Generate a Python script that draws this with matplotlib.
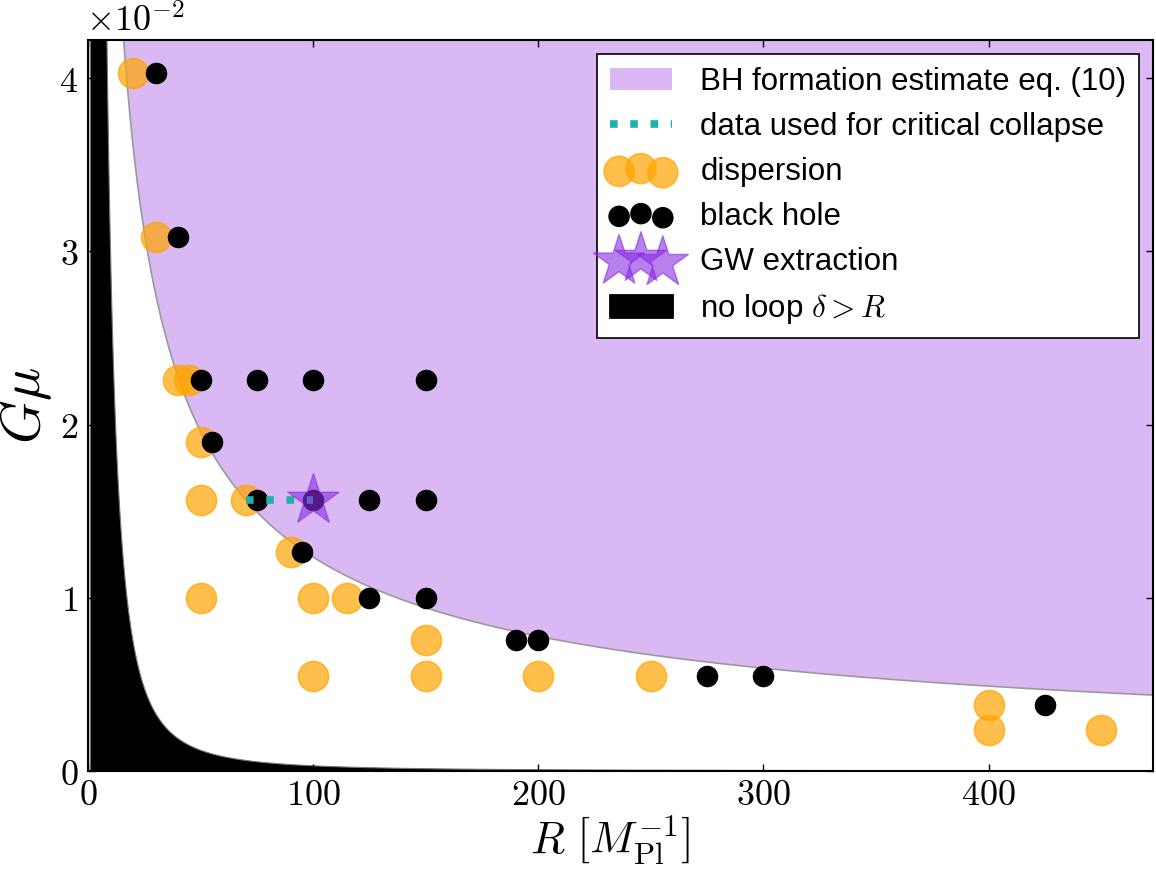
import numpy as np
import matplotlib
matplotlib.use('Agg')
import matplotlib.pyplot as plt
from matplotlib.ticker import FuncFormatter, MultipleLocator
from matplotlib.patches import Patch
from matplotlib.lines import Line2D

plt.rcParams['mathtext.fontset'] = 'cm'
plt.rcParams['font.family'] = ['Liberation Sans', 'DejaVu Sans']

# ---- data (G mu in units of 1e-2) ----
disp_R = [20, 30, 40, 45, 50, 50, 70, 90, 50, 100, 115, 150, 100, 150, 200, 250, 400, 400, 450]
disp_Gmu = [4.03, 3.08, 2.26, 2.26, 1.90, 1.565, 1.565, 1.265, 1.00, 1.00, 1.00, 0.757,
            0.55, 0.55, 0.55, 0.55, 0.38, 0.236, 0.236]

bh_R = [30, 40, 50, 75, 100, 150, 55, 75, 100, 125, 150, 95, 125, 150, 190, 200, 275, 300, 425]
bh_Gmu = [4.03, 3.08, 2.26, 2.26, 2.26, 2.26, 1.90, 1.565, 1.565, 1.565, 1.565, 1.265,
          1.00, 1.00, 0.757, 0.757, 0.55, 0.55, 0.38]

gw_R = [100]
gw_Gmu = [1.565]

crit_R = [70, 100]
crit_Gmu = [1.565, 1.565]

# BH formation estimate: Gmu = BH_COEFF * R**BH_EXP   (units 1e-2)
BH_COEFF = 26.6
BH_EXP = -2.0 / 3.0
# no loop region: Gmu < NOLOOP_COEFF / R**2   (units 1e-2)
NOLOOP_COEFF = 300.0

SCALE = 1e-2

LAVENDER = '#d9b8f4'
ORANGE = '#ffa500'
TEAL = '#20b2aa'
VIOLET = '#8a2be2'

fig = plt.figure(figsize=(11.56, 8.71), dpi=100)
ax = fig.add_axes([88 / 1156, 1 - 771 / 871, (1153 - 88) / 1156, (771 - 40) / 871])

Rc = np.linspace(1.0, 480.0, 3000)
bh_curve = BH_COEFF * Rc ** BH_EXP * SCALE
nl_curve = NOLOOP_COEFF / Rc ** 2 * SCALE

ax.fill_between(Rc, bh_curve, 1.0, facecolor=LAVENDER, lw=0, zorder=1)
ax.plot(Rc, bh_curve, color='#9a9a9a', lw=1.2, zorder=1.1)
ax.fill_between(Rc, 0, nl_curve, facecolor='black', edgecolor='#777777', lw=0.8, zorder=1.2)

ax.scatter(disp_R, np.array(disp_Gmu) * SCALE, s=470, c=ORANGE, alpha=0.7,
           edgecolors=ORANGE, linewidths=1.2, zorder=2)
ax.scatter(bh_R, np.array(bh_Gmu) * SCALE, s=210, c='black', zorder=3)
ax.plot(crit_R, np.array(crit_Gmu) * SCALE, ls=':', color=TEAL, lw=5.5, zorder=4,
        dash_capstyle='butt')
ax.scatter(gw_R, np.array(gw_Gmu) * SCALE, marker='*', s=1500, c=VIOLET, alpha=0.6,
           edgecolors=VIOLET, linewidths=1, zorder=5)

ax.set_xlim(0, 473)
ax.set_ylim(0, 0.0422)

ax.xaxis.set_major_locator(MultipleLocator(100))
ax.yaxis.set_major_locator(MultipleLocator(0.01))
ax.xaxis.set_major_formatter(FuncFormatter(lambda v, p: r'$%d$' % round(v)))
ax.yaxis.set_major_formatter(FuncFormatter(lambda v, p: r'$%d$' % round(v / SCALE)))
ax.tick_params(direction='in', top=True, right=True, length=5, width=1,
               labelsize=26, pad=7)
ax.tick_params(axis='x', pad=5)
for s in ax.spines.values():
    s.set_linewidth(1.5)
    s.set_zorder(10)

ax.text(-0.002, 1.0, r'$\times10^{-2}$', transform=ax.transAxes, ha='left', va='bottom',
        fontsize=26)

ax.set_xlabel(r'$R\ \left[M_{\rm Pl}^{-1}\right]$', fontsize=32)
ax.xaxis.set_label_coords(0.49, -0.059, transform=ax.transAxes)
ax.xaxis.label.set_va('top')
ax.set_ylabel(r'$G\mu$', fontsize=40, labelpad=4)

h_bh = Patch(facecolor=LAVENDER, edgecolor='none')
h_crit = Line2D([], [], ls=':', color=TEAL, lw=5.5, dash_capstyle='butt')
h_disp = ax.collections[2]
h_black = ax.collections[3]
h_gw = ax.collections[4]
h_nl = Patch(facecolor='black', edgecolor='black', lw=2)

leg = ax.legend([h_bh, h_crit, h_disp, h_black, h_gw, h_nl],
                ['BH formation estimate eq. (10)', 'data used for critical collapse',
                 'dispersion', 'black hole', 'GW extraction', r'no loop $\delta > R$'],
                loc='upper right', fontsize=22.5, scatterpoints=3,
                scatteryoffsets=[0.375, 0.5, 0.3125], fancybox=False, framealpha=1,
                edgecolor='black', handlelength=2.0, handletextpad=0.9,
                labelspacing=0.48, borderpad=0.4, borderaxespad=0.45)
leg.get_frame().set_linewidth(1.2)
leg.set_zorder(20)

fig.savefig('out.png', dpi=100)
